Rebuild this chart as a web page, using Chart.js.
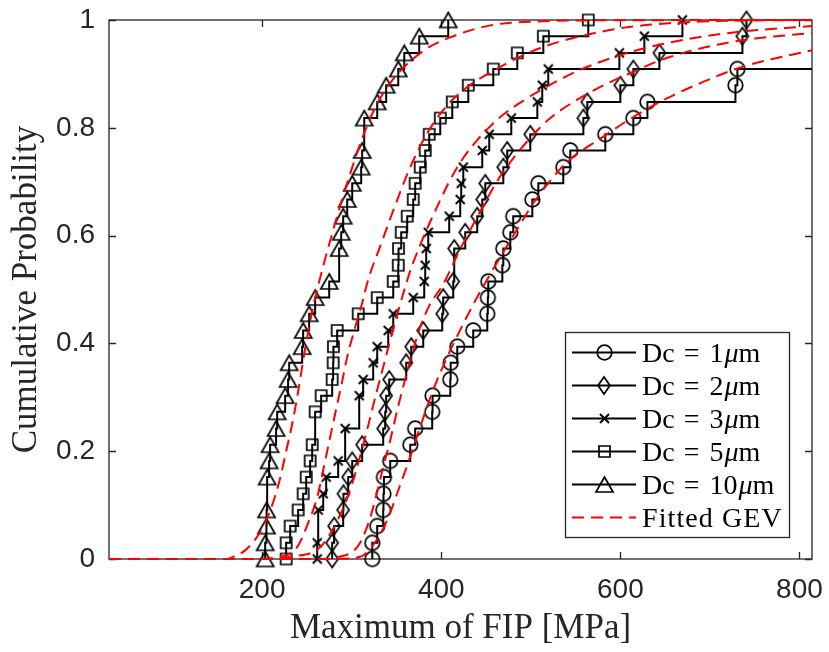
<!DOCTYPE html>
<html><head><meta charset="utf-8">
<script src="https://cdn.jsdelivr.net/npm/chart.js@4"></script>
<style>html,body{margin:0;padding:0;background:#fff}#wrap{width:829px;height:652px;position:relative}</style>
</head><body><div id="wrap"><canvas id="c" width="829" height="652"></canvas></div>
<script>
// ---------- data ----------
const xTicks = [200, 400, 600, 800];
const yTicks = [0, 0.2, 0.4, 0.6, 0.8, 1];
const yTickLabels = ['0', '0.2', '0.4', '0.6', '0.8', '1'];
const dcSizes = ['1', '2', '3', '5', '10'];

// empirical CDF markers (x = Maximum of FIP [MPa], F = cumulative probability)
const dc1X = [323,323,328.5,335.2,335.5,336,343,365.4,370.9,389.9,390.3,410.1,410.5,417.9,435.7,451.4,452,452.5,468.2,469.3,477.1,480.4,501.7,508.4,536.3,544.1,583.2,614.5,630.2,728.5,730.7,900];
const dc1F = [0,0.030,0.061,0.091,0.121,0.152,0.182,0.212,0.242,0.273,0.303,0.333,0.364,0.394,0.424,0.455,0.485,0.515,0.545,0.576,0.606,0.636,0.667,0.697,0.727,0.758,0.788,0.818,0.848,0.879,0.909,0.939];

const dc2X = [278.2,278.2,280.4,290.5,290.8,296.1,300.6,311.7,335.2,337.4,338.5,341.9,360.9,366.5,379.9,401.1,402.2,413.4,414.5,426.8,440.2,445.8,449.2,469.3,473.7,499.4,558.7,563.1,600.0,614.5,643.6,736.3,740.8];
const dc2F = [0,0.030,0.061,0.091,0.121,0.152,0.182,0.212,0.242,0.273,0.303,0.333,0.364,0.394,0.424,0.455,0.485,0.515,0.576,0.606,0.636,0.667,0.697,0.727,0.758,0.788,0.818,0.848,0.879,0.909,0.939,0.970,1];

const dc3X = [261.5,261.5,262.6,268.2,271.5,284.9,292.7,308.4,312.8,324.0,328.5,340.8,346.4,368.7,381.0,382.1,383.2,385.5,408.9,421.2,422.3,424.6,445.8,453.6,478.2,507.3,512.8,519.5,598.9,626.8,669.3];
const dc3F = [0,0.030,0.091,0.121,0.152,0.182,0.242,0.303,0.333,0.364,0.394,0.424,0.455,0.485,0.515,0.545,0.576,0.606,0.636,0.667,0.697,0.727,0.758,0.788,0.818,0.848,0.879,0.909,0.939,0.970,1];

const dc5X = [226.8,226.8,231.3,240.2,245.8,249.2,253.6,255.9,259.2,265.9,278.2,279.3,279.6,283.8,307.3,328.5,346.4,352.0,352.3,355.3,362.0,368.7,370.9,376.5,382.1,386.6,398.9,412.3,430.2,458.1,484.9,514.0,564.2];
const dc5F = [0,0.030,0.061,0.091,0.121,0.152,0.182,0.212,0.273,0.303,0.333,0.364,0.394,0.424,0.455,0.485,0.515,0.545,0.576,0.606,0.636,0.667,0.697,0.727,0.758,0.788,0.818,0.848,0.879,0.909,0.939,0.970,1];

const dc10X = [203.4,203.4,204.8,205.0,205.6,207.8,208.9,215.6,216.8,225.7,229.0,230.2,244.7,245.8,252.5,259.2,274.9,286.0,288.3,290.5,295.0,300.6,310.6,311.7,314.0,328.5,338.5,352.0,358.7,375.4,407.8];
const dc10F = [0,0.030,0.061,0.091,0.152,0.182,0.212,0.242,0.273,0.303,0.333,0.364,0.394,0.424,0.455,0.485,0.515,0.576,0.606,0.636,0.667,0.697,0.727,0.758,0.818,0.848,0.879,0.909,0.939,0.970,1];

// fitted GEV curves
const gev1X = [29,280,309.5,324.0,339.7,350.8,365.4,376.5,391.1,406.7,421.2,440.2,465.9,484.9,502.8,521.8,540.8,577.6,614.5,652.5,689.4,734.1,814];
const gev1F = [0,0,0.004,0.026,0.072,0.122,0.19,0.245,0.314,0.375,0.425,0.486,0.56,0.612,0.66,0.702,0.737,0.78,0.82,0.855,0.883,0.912,0.944];
const gev2X = [29,270,279.3,306.1,317.3,326.3,335.2,343.0,350.8,358.7,366.5,375.4,386.6,402.2,421.2,443.6,465.9,496.1,521.8,566.5,614.5,652.5,726.3,814];
const gev2F = [0,0,0.002,0.022,0.06,0.11,0.171,0.22,0.276,0.327,0.375,0.425,0.47,0.51,0.575,0.645,0.71,0.775,0.818,0.866,0.904,0.93,0.96,0.976];
const gev3X = [29,215,231.3,264.8,289.4,300.6,317.3,326.3,335.2,343.0,352.0,359.8,367.6,398.9,417.9,440.2,465.9,496.1,521.8,558.7,614.5,670.4,726.3,814];
const gev3F = [0,0,0.004,0.022,0.09,0.14,0.24,0.30,0.356,0.406,0.46,0.505,0.545,0.666,0.727,0.777,0.82,0.855,0.88,0.91,0.942,0.963,0.977,0.989];
const gev5X = [29,188,220.1,239.1,251.4,261.5,272.6,281.6,289.4,295.0,303.9,311.7,318.4,331.8,350.8,365.4,384.4,402.2,424.6,462.6,510.6,566.5,614.5,689.4,814];
const gev5F = [0,0,0.004,0.022,0.067,0.115,0.20,0.27,0.33,0.375,0.43,0.475,0.518,0.58,0.666,0.727,0.79,0.833,0.87,0.91,0.948,0.974,0.988,0.997,1];
const gev10X = [29,160,167.6,181.0,197.8,211.2,220.1,226.8,233.5,239.1,248.0,254.7,261.5,279.3,298.3,315.1,328.5,348.6,382.1,410.1,454.7,502.8,600,814];
const gev10F = [0,0,0.004,0.016,0.05,0.10,0.15,0.20,0.25,0.30,0.39,0.45,0.50,0.61,0.715,0.795,0.845,0.895,0.945,0.968,0.99,0.997,0.9995,1];

// ---------- marker glyphs ----------
const INK = '#000000';
const AXIS = '#262626';
function markerCanvas(kind) {
  const c = document.createElement('canvas');
  const lw = 1.7;
  let w, h;
  if (kind === 'circle') { w = 19; h = 19; }
  else if (kind === 'diamond') { w = 16; h = 21; }
  else if (kind === 'x') { w = 13; h = 13; }
  else if (kind === 'square') { w = 15; h = 15; }
  else { w = 21; h = 19; }
  c.width = w; c.height = h;
  const g = c.getContext('2d');
  g.strokeStyle = INK; g.lineWidth = lw; g.lineJoin = 'miter';
  g.beginPath();
  if (kind === 'circle') {
    g.arc(w / 2, h / 2, 7.3, 0, Math.PI * 2);
  } else if (kind === 'diamond') {
    g.moveTo(w / 2, 2); g.lineTo(w - 2, h / 2); g.lineTo(w / 2, h - 2); g.lineTo(2, h / 2); g.closePath();
  } else if (kind === 'x') {
    g.lineWidth = 1.9;
    g.moveTo(2, 2); g.lineTo(w - 2, h - 2); g.moveTo(w - 2, 2); g.lineTo(2, h - 2);
  } else if (kind === 'square') {
    g.rect(2, 2, w - 4, h - 4);
  } else {
    g.moveTo(w / 2, 2); g.lineTo(w - 2, h - 2); g.lineTo(2, h - 2); g.closePath();
  }
  g.stroke();
  return c;
}
const markers = ['circle', 'diamond', 'x', 'square', 'triangle'].map(markerCanvas);

const ecdfX = [dc1X, dc2X, dc3X, dc5X, dc10X];
const ecdfF = [dc1F, dc2F, dc3F, dc5F, dc10F];
const gevX = [gev1X, gev2X, gev3X, gev5X, gev10X];
const gevF = [gev1F, gev2F, gev3F, gev5F, gev10F];
const pts = (xs, ys) => xs.map((x, i) => ({ x: x, y: ys[i] }));

const datasets = [];
for (let k = 0; k < 5; k++) {
  datasets.push({
    label: 'Fitted GEV ' + dcSizes[k],
    data: pts(gevX[k], gevF[k]),
    showLine: true,
    borderColor: '#ff0000',
    borderWidth: 2,
    borderDash: [12, 7],
    cubicInterpolationMode: 'monotone',
    pointRadius: 0,
    clip: { left: 0, right: 0, top: 4, bottom: 4 },
    order: 0
  });
}
for (let k = 0; k < 5; k++) {
  datasets.push({
    label: 'Dc = ' + dcSizes[k] + 'μm',
    data: pts(ecdfX[k], ecdfF[k]),
    showLine: true,
    stepped: 'before',
    borderColor: INK,
    borderWidth: 2,
    pointStyle: markers[k],
    pointRadius: 7,
    pointBorderWidth: 0,
    clip: { left: 20, right: 0, top: 20, bottom: 20 },
    order: 1
  });
}

// ---------- plugins: MATLAB style box/ticks and legend ----------
const boxPlugin = {
  id: 'boxPlugin',
  beforeDatasetsDraw(chart) {
    const { ctx, chartArea: a, scales } = chart;
    ctx.save();
    ctx.strokeStyle = AXIS; ctx.lineWidth = 1.3;
    ctx.strokeRect(a.left, a.top, a.right - a.left, a.bottom - a.top);
    ctx.beginPath();
    const tl = 7;
    xTicks.forEach(v => {
      const px = Math.round(scales.x.getPixelForValue(v)) + 0.5;
      ctx.moveTo(px, a.bottom); ctx.lineTo(px, a.bottom - tl);
      ctx.moveTo(px, a.top); ctx.lineTo(px, a.top + tl);
    });
    yTicks.forEach(v => {
      const py = Math.round(scales.y.getPixelForValue(v)) + 0.5;
      ctx.moveTo(a.left, py); ctx.lineTo(a.left + tl, py);
      ctx.moveTo(a.right, py); ctx.lineTo(a.right - tl, py);
    });
    ctx.stroke();
    ctx.restore();
  }
};

const legendPlugin = {
  id: 'legendPlugin',
  afterDatasetsDraw(chart) {
    const ctx = chart.ctx;
    const L = 565, T = 332, R = 789, B = 537;
    ctx.save();
    ctx.fillStyle = '#ffffff';
    ctx.fillRect(L, T, R - L, B - T);
    ctx.strokeStyle = AXIS; ctx.lineWidth = 1.3;
    ctx.strokeRect(L + 0.5, T + 0.5, R - L, B - T);
    const rowY = k => 351.5 + 33 * k;
    const x0 = 572, x1 = 636, tx = 642;
    const roman = '28px "Liberation Serif", "Times New Roman", serif';
    const ital = 'italic 28px "Liberation Serif", "Times New Roman", serif';
    ctx.textBaseline = 'alphabetic';
    ctx.fillStyle = '#000';
    for (let k = 0; k < 6; k++) {
      const y = Math.round(rowY(k)) + 0.5;
      ctx.beginPath();
      if (k < 5) {
        ctx.setLineDash([]);
        ctx.strokeStyle = INK; ctx.lineWidth = 2;
      } else {
        ctx.setLineDash([12, 7]);
        ctx.strokeStyle = '#ff0000'; ctx.lineWidth = 2;
      }
      ctx.moveTo(x0, y); ctx.lineTo(x1, y); ctx.stroke();
      ctx.setLineDash([]);
      if (k < 5) {
        const m = markers[k];
        ctx.drawImage(m, Math.round((x0 + x1) / 2 - m.width / 2), Math.round(y - m.height / 2));
      }
      const by = y + 9;
      if (k < 5) {
        ctx.font = roman;
        let x = tx;
        ctx.fillText('Dc', x, by); x += ctx.measureText('Dc').width + 9;
        ctx.fillText('=', x, by); x += ctx.measureText('=').width + 10;
        ctx.fillText(dcSizes[k], x, by); x += ctx.measureText(dcSizes[k]).width + 1;
        ctx.font = ital;
        ctx.fillText('μ', x, by); x += ctx.measureText('μ').width;
        ctx.font = roman;
        ctx.fillText('m', x, by);
      } else {
        ctx.font = roman;
        let x = tx;
        for (const ch of 'Fitted GEV') {
          ctx.fillText(ch, x, by);
          x += ctx.measureText(ch).width + 1.1;
        }
      }
    }
    ctx.restore();
  }
};

const tickFont = { family: '"Liberation Sans", Arial, sans-serif', size: 28 };
const titleFont = { family: '"Liberation Serif", "Times New Roman", serif', size: 35 };

new Chart(document.getElementById('c'), {
  type: 'scatter',
  data: { datasets: datasets },
  plugins: [boxPlugin, legendPlugin],
  options: {
    responsive: false,
    animation: false,
    devicePixelRatio: 1,
    events: [],
    layout: { padding: { left: 0, top: 20, right: 17, bottom: 0 } },
    plugins: { legend: { display: false }, tooltip: { enabled: false } },
    scales: {
      x: {
        type: 'linear', min: 29, max: 814,
        afterBuildTicks: s => { s.ticks = xTicks.map(v => ({ value: v })); },
        afterFit: s => { s.height = 93; s.paddingLeft = 0; s.paddingRight = 0; },
        grid: { display: false, drawTicks: false },
        border: { display: false },
        ticks: { font: tickFont, color: AXIS, padding: 14, maxRotation: 0, autoSkip: false, callback: v => String(v) },
        title: { display: true, text: 'Maximum of FIP [MPa]', font: titleFont, color: AXIS, padding: { top: 0, bottom: 2 } }
      },
      y: {
        type: 'linear', min: 0, max: 1,
        afterBuildTicks: s => { s.ticks = yTicks.map(v => ({ value: v })); },
        afterFit: s => { s.width = 109; s.paddingTop = 0; s.paddingBottom = 0; },
        grid: { display: false, drawTicks: false },
        border: { display: false },
        ticks: { font: tickFont, color: AXIS, padding: 14, autoSkip: false, callback: (v, i) => yTickLabels[i] },
        title: { display: true, text: 'Cumulative Probability', font: titleFont, color: AXIS, padding: { top: 6, bottom: 0 } }
      }
    }
  }
});
</script>
</body></html>
